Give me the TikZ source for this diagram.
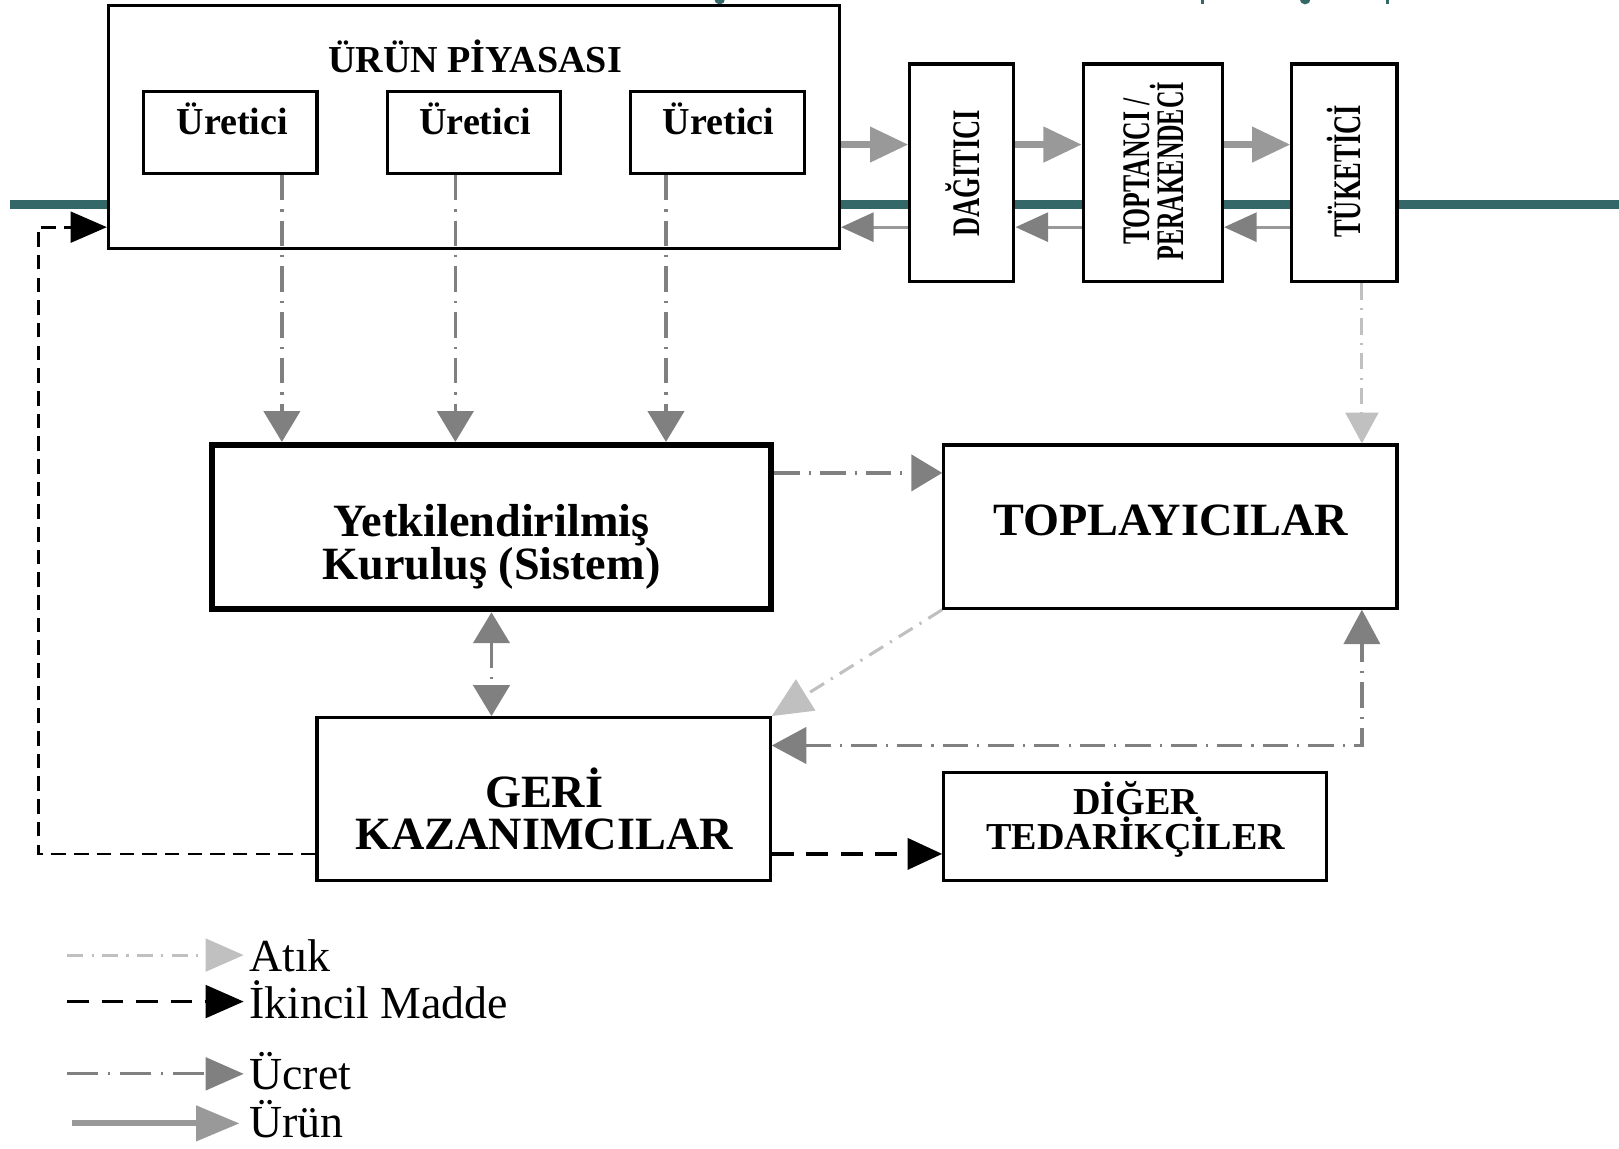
\documentclass[tikz,border=0pt]{standalone}
\usepackage{fontspec}
\setmainfont{Liberation Serif}
\usetikzlibrary{arrows.meta,calc}
\definecolor{tealc}{RGB}{52,104,104}
\definecolor{atikc}{RGB}{192,192,192}
\definecolor{ucretc}{RGB}{128,128,128}
\definecolor{urunc}{RGB}{153,153,153}
\begin{document}
\begin{tikzpicture}[x=0.02cm,y=-0.02cm,
  box/.style={draw=black, fill=white, line width=1.7pt, inner sep=0pt},
  sz/.style 2 args={minimum width=#1*0.02cm, minimum height=#2*0.02cm},
  tsmall/.style={font=\bfseries\fontsize{21}{24}\selectfont, inner sep=0pt, anchor=base},
  tbig/.style={font=\bfseries\fontsize{25.5}{28}\selectfont, inner sep=0pt, anchor=base},
  trot/.style={font=\bfseries\fontsize{21.5}{18.8}\selectfont, inner sep=0pt, rotate=90, align=center},
  leg/.style={font=\fontsize{25.3}{28}\selectfont, inner sep=0pt, anchor=base west},
  ucret/.style={draw=ucretc, line width=1.8pt, dash pattern=on 14pt off 5pt on 1.2pt off 5pt},
  atik/.style={draw=atikc, line width=1.7pt, dash pattern=on 9pt off 4.5pt on 1.2pt off 4.5pt},
  urun/.style={draw=urunc, line width=3.4pt},
  geri/.style={draw=urunc, line width=1.7pt},
  ikincil/.style={draw=black, line width=1.5pt, dash pattern=on 8pt off 4.5pt},
  ikincilk/.style={draw=black, line width=2.2pt, dash pattern=on 12pt off 7pt},
  hU/.style={-{Triangle[length=17pt,width=20pt,fill=ucretc,color=ucretc]}},
  hA/.style={-{Triangle[length=17pt,width=18pt,fill=atikc,color=atikc]}},
  hP/.style={-{Triangle[length=21pt,width=19pt,fill=urunc,color=urunc]}},
  hB/.style={-{Triangle[length=18pt,width=16pt,fill=ucretc,color=ucretc]}},
  hK/.style={-{Triangle[length=19pt,width=17pt,fill=black]}}
]
\useasboundingbox (0,0) rectangle (1568,1112);

% top fragments of a clipped title
\fill[tealc] (697,-1) circle[radius=3pt];
\fill[tealc] (1163,0) rectangle (1166,4);
\fill[tealc] (1264,-1) circle[radius=3pt];
\fill[tealc] (1342,0) rectangle (1345,4);

% teal band
\coordinate (tl1) at (10,198);
\coordinate (tl2) at (1568,198);
\draw[tealc, line width=4.6pt] (tl1) -- (tl2);

% helper coordinates
\coordinate (yp) at (0,140);
\coordinate (yb) at (0,220);
\coordinate (y458) at (0,458);
\coordinate (y722) at (0,722);
\coordinate (y827) at (0,827);
\coordinate (cx) at (1319,0);
\coordinate (lx) at (37,220);

% boxes
\node[box, sz={708}{236}] (piyasa) at (459,123) {};
\node[tsmall] (piyasat) at (460,70) {ÜRÜN PİYASASI};
\node[box, sz={168}{79}] (ur1) at (223,128.5) {};
\node[box, sz={168}{79}] (ur2) at (459,128.5) {};
\node[box, sz={168}{79}] (ur3) at (695,128.5) {};
\node[tsmall] (ur1t) at (225,130) {Üretici};
\node[tsmall] (ur2t) at (460,130) {Üretici};
\node[tsmall] (ur3t) at (696,130) {Üretici};

\node[box, sz={101}{211}] (dag) at (931.5,167.5) {};
\node[box, sz={135}{211}] (top) at (1116.5,167.5) {};
\node[box, sz={102}{211}] (tuk) at (1302,167.5) {};
\node[trot] (dagt) at (932,168) {\scalebox{0.68}[1]{DAĞITICI}};
\node[trot] (topt) at (1117,166) {\scalebox{0.66}[1]{TOPTANCI /}\\\scalebox{0.62}[1]{PERAKENDECİ}};
\node[trot] (tukt) at (1302,166) {\scalebox{0.68}[1]{TÜKETİCİ}};

\node[box, line width=3.4pt, sz={542}{159}] (yetk) at (476,510.5) {};
\node[tbig] (yetk1) at (476,520) {Yetkilendirilmiş};
\node[tbig] (yetk2) at (476,561) {Kuruluş (Sistem)};

\node[box, sz={439}{158}] (topl) at (1133.5,510) {};
\node[tbig] (toplt) at (1134,519) {TOPLAYICILAR};

\node[box, sz={439}{158}] (geri) at (526.5,774) {};
\node[tbig] (geri1) at (527,782) {GERİ};
\node[tbig] (geri2) at (527,823) {KAZANIMCILAR};

\node[box, sz={371}{105}] (diger) at (1099.5,800.5) {};
\node[tsmall] (diger1) at (1100,789) {DİĞER};
\node[tsmall] (diger2) at (1100,823) {TEDARİKÇİLER};

% product flow (forward)
\draw[urun, hP] (piyasa.east |- yp) -- (dag.west |- yp);
\draw[urun, hP] (dag.east |- yp) -- (top.west |- yp);
\draw[urun, hP] (top.east |- yp) -- (tuk.west |- yp);
% payment back
\draw[geri, hB] (dag.west |- yb) -- (piyasa.east |- yb);
\draw[geri, hB] (top.west |- yb) -- (dag.east |- yb);
\draw[geri, hB] (tuk.west |- yb) -- (top.east |- yb);

% producers -> system
\draw[ucret, hU] ($(ur1.south)+(50,0)$) coordinate (a1) -- (a1 |- yetk.north);
\draw[ucret, hU] ($(ur2.south)+(-18,0)$) coordinate (a2) -- (a2 |- yetk.north);
\draw[ucret, hU] ($(ur3.south)+(-50,0)$) coordinate (a3) -- (a3 |- yetk.north);

% system -> collectors
\draw[ucret, hU] (yetk.east |- y458) -- (topl.west |- y458);
% consumer -> collectors (waste)
\draw[atik, hA] (tuk.south -| cx) -- (topl.north -| cx);
% collectors -> recyclers (waste)
\draw[atik, -{Triangle[length=22pt,width=20pt,fill=atikc,color=atikc]}] (topl.south west) -- (geri.north east);
% system <-> recyclers
\draw[ucret, {Triangle[length=17pt,width=20pt,fill=ucretc,color=ucretc]}-{Triangle[length=17pt,width=20pt,fill=ucretc,color=ucretc]}] (yetk.south) -- (yetk.south |- geri.north);
% recyclers <-> collectors
\draw[ucret, {Triangle[length=19pt,width=20pt,fill=ucretc,color=ucretc]}-{Triangle[length=19pt,width=20pt,fill=ucretc,color=ucretc]}] (geri.east |- y722) -| (topl.south -| cx);

% secondary material
\draw[ikincilk, hK] (geri.east |- y827) -- (diger.west |- y827);
\draw[ikincil, -{Triangle[length=20pt,width=17pt,fill=black]}] (geri.west |- y827) -| (lx) -- (piyasa.west |- yb);

% legend
\coordinate (lA0) at (65,925);  \coordinate (lA1) at (236,925);
\coordinate (lB0) at (65,970);  \coordinate (lB1) at (236,970);
\coordinate (lC0) at (65,1040); \coordinate (lC1) at (236,1040);
\coordinate (lD0) at (70,1088); \coordinate (lD1) at (232,1088);
\draw[atik, -{Triangle[length=21pt,width=18pt,fill=atikc,color=atikc]}] (lA0) -- (lA1);
\draw[ikincilk, line width=1.8pt, -{Triangle[length=21pt,width=18pt,fill=black]}] (lB0) -- (lB1);
\draw[ucret, dash pattern=on 17pt off 5.5pt on 1.2pt off 5.5pt, -{Triangle[length=21pt,width=18pt,fill=ucretc,color=ucretc]}] (lC0) -- (lC1);
\draw[urun, -{Triangle[length=24pt,width=19pt,fill=urunc,color=urunc]}] (lD0) -- (lD1);
\node[leg] (legA) at (241,941) {Atık};
\node[leg] (legB) at (241,986) {İkincil Madde};
\node[leg] (legC) at (241,1055) {Ücret};
\node[leg] (legD) at (241,1102) {Ürün};
\end{tikzpicture}
\end{document}
